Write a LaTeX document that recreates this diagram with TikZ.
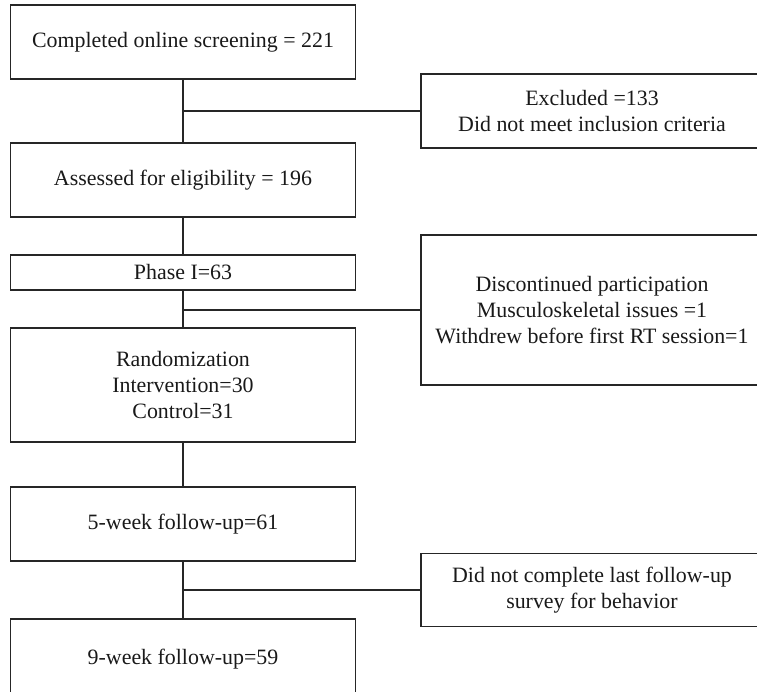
\documentclass[tikz,border=0pt]{standalone}
\usepackage{fontspec}
\setmainfont{Liberation Serif}
\usepackage{tikz}
\usetikzlibrary{positioning}

\tikzset{
  box/.style={draw=black!85, line width=1.3pt, align=center, inner sep=0pt,
    font=\fontsize{21.9}{25.8}\selectfont, text=black!90},
  link/.style={draw=black!85, line width=1.3pt}
}

\begin{document}
\begin{tikzpicture}[x=1pt, y=-1pt]

\useasboundingbox (0,0) rectangle (757,692);
\clip (0,0) rectangle (757,692);

% Main column
\node[box, minimum width=345, minimum height=74] (screen) at (183,42) {Completed online screening = 221};
\node[box, minimum width=345, minimum height=74] (assess) at (183,180) {Assessed for eligibility = 196};
\node[box, minimum width=345, minimum height=35] (phase) at (183,272.5) {Phase I=63};
\node[box, minimum width=345, minimum height=114] (random) at (183,385) {Randomization\\Intervention=30\\Control=31};
\node[box, minimum width=345, minimum height=74] (week5) at (183,524) {5-week follow-up=61};
\node[box, minimum width=345, minimum height=80] (week9) at (183,659) {9-week follow-up=59};

% Side boxes
\node[box, minimum width=342, minimum height=74] (excluded) at (592,111) {Excluded =133\\Did not meet inclusion criteria};
\node[box, minimum width=342, minimum height=150] (discont) at (592,310) {Discontinued participation\\Musculoskeletal issues =1\\Withdrew before first RT session=1};
\node[box, minimum width=342, minimum height=73] (incomplete) at (592,590) {Did not complete last follow-up\\survey for behavior};

% Vertical lines
\draw[link] (screen) -- (assess);
\draw[link] (assess) -- (phase);
\draw[link] (phase) -- (random);
\draw[link] (random) -- (week5);
\draw[link] (week5) -- (week9);

% Side lines
\coordinate (j1) at (screen.south |- excluded.west);
\coordinate (j2) at (phase.south |- discont.west);
\coordinate (j3) at (week5.south |- incomplete.west);
\draw[link] (j1) -- (excluded);
\draw[link] (j2) -- (discont);
\draw[link] (j3) -- (incomplete);

\end{tikzpicture}
\end{document}
